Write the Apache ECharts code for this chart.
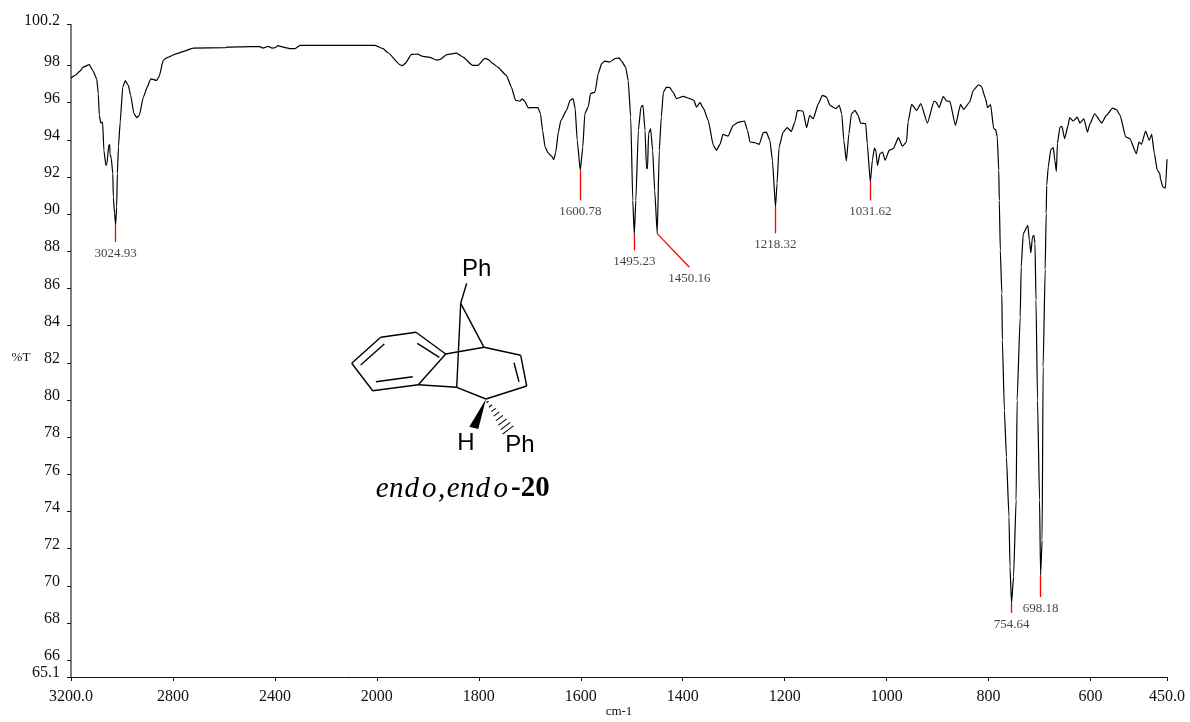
<!DOCTYPE html>
<html>
<head>
<meta charset="utf-8">
<style>html,body{margin:0;padding:0;background:#fff}#c{width:1190px;height:722px}</style>
<script src="https://cdn.jsdelivr.net/npm/echarts@6/dist/echarts.min.js"></script>
</head>
<body>
<div id="c"></div>
<script>
// [wavenumber cm-1, %T]
const chStretchRegion = [[3200,97.32],[3184,97.46],[3165,97.69],[3152,97.91],[3128,98.04],[3115,97.73],[3099,97.28],[3093,96.48],[3089,95.31],[3083,94.90],[3076,94.95],[3071,93.43],[3063,92.62],[3059,92.72],[3052,93.70],[3048,93.74],[3047,93.25],[3042,93.00],[3036,92.18],[3034,90.92],[3029,90.04],[3025,89.40],[3021,90.38],[3018,92.19],[3014,93.61],[3007,94.95],[2997,96.83],[2987,97.18],[2975,96.92],[2966,96.39],[2953,95.40],[2942,95.19],[2932,95.31],[2916,96.30],[2901,96.83],[2887,97.28],[2864,97.19],[2854,97.41],[2838,98.27],[2825,98.41],[2785,98.63],[2761,98.74],[2721,98.93]];
const plateauRegion = [[2596,98.95],[2588,98.98],[2498,99.01],[2459,99.01],[2447,98.93],[2427,99.02],[2411,98.93],[2400,98.95],[2388,99.06],[2368,98.98],[2341,98.90],[2321,98.90],[2302,99.08],[2007,99.08]];
const overtoneRegion = [[1988,98.90],[1978,98.68],[1955,98.04],[1950,97.98],[1945,98.09],[1932,98.59],[1920,98.61],[1910,98.48],[1896,98.43],[1883,98.28],[1876,98.32],[1863,98.58],[1844,98.66],[1831,98.45],[1812,98.00],[1802,98.00],[1788,98.38],[1782,98.32],[1772,98.09],[1763,97.91],[1746,97.46],[1736,96.83],[1728,96.12],[1719,96.08],[1715,96.20],[1710,96.08],[1703,95.72],[1690,95.73],[1684,95.73],[1679,95.40],[1675,94.51],[1670,93.61],[1664,93.29],[1657,93.11],[1653,92.93],[1649,93.34],[1644,94.41],[1639,95.04],[1628,95.58],[1621,96.12],[1615,96.21],[1611,95.67],[1607,93.97],[1601,92.36],[1596,93.61],[1592,95.40],[1585,95.80],[1581,96.48],[1572,96.56],[1566,97.55],[1559,98.09],[1553,98.23],[1543,98.18],[1533,98.36],[1525,98.41],[1520,98.23],[1512,97.91]];
const aromaticRegion = [[1507,97.19],[1502,95.22],[1498,90.74],[1495,88.90],[1492,90.74],[1487,94.51],[1482,95.76],[1478,95.85],[1474,94.51],[1471,92.45],[1469,92.46],[1467,94.33],[1463,94.60],[1459,93.43],[1455,91.28],[1450,88.95],[1446,93.43],[1442,95.22],[1438,96.56],[1432,96.83],[1425,96.80],[1419,96.56],[1412,96.21],[1399,96.33],[1386,96.21],[1378,96.12],[1373,95.76],[1366,96.00],[1359,95.67],[1350,95.04],[1340,93.70],[1334,93.43],[1327,93.75],[1321,94.29],[1311,94.20],[1301,94.77],[1291,94.95],[1279,95.01],[1273,94.51],[1268,93.88],[1258,93.84],[1250,93.75],[1242,94.38],[1236,94.41],[1229,93.97],[1224,92.89],[1218,90.38],[1215,91.64],[1211,93.61],[1203,94.41],[1195,94.65],[1187,94.45],[1180,94.95],[1175,95.58],[1164,95.54],[1157,94.65],[1151,95.31],[1144,95.13],[1134,95.94],[1126,96.39],[1118,96.30],[1111,95.85],[1100,95.67],[1093,95.85],[1088,95.40],[1084,93.97],[1079,92.86],[1074,94.33],[1069,95.40],[1062,95.58],[1056,95.31],[1051,94.90],[1041,94.87],[1038,93.79],[1032,91.73],[1028,92.89],[1024,93.55],[1021,93.39],[1018,92.62],[1013,93.25],[1008,93.34],[1003,92.89],[995,93.43],[987,93.52],[977,94.11],[969,93.65],[961,93.88],[958,94.95],[951,95.90],[941,95.58],[933,95.94],[920,94.90],[907,96.08],[903,96.03],[897,95.73],[889,96.33],[882,96.08],[876,96.06],[865,94.77],[855,95.90],[849,95.63],[837,96.03],[830,96.66],[820,96.96],[814,96.87],[806,96.21],[802,95.73],[796,95.89],[790,94.60],[786,94.54],[783,94.15]];
const fingerprintRegion = [[780,92.36],[779,90.74],[777,88.05],[774,85.74],[773,83.22],[769,79.45],[765,76.94],[760,73.72],[758,71.03],[755,69.08],[751,70.49],[746,74.61],[744,79.99],[738,84.47],[736,87.16],[732,88.95],[723,89.40],[720,88.59],[717,87.91],[714,88.77],[711,88.86],[709,88.43],[707,85.37],[704,79.99],[700,74.61],[698,70.58],[695,72.46],[693,81.78],[689,87.01],[687,90.04],[686,91.55],[683,92.53],[678,93.47],[673,93.58],[670,92.89],[667,92.30],[665,93.79],[660,94.68],[656,94.72],[651,94.06],[644,94.77],[641,95.19],[634,95.01],[626,95.22],[621,94.90],[613,95.13],[606,94.41],[601,94.87],[592,95.40],[578,94.90],[569,95.31],[557,95.70],[549,95.62],[542,95.31],[531,94.15],[523,94.06],[510,93.25],[505,93.88],[500,93.75],[492,94.47],[485,93.97],[480,94.29],[475,93.29],[469,92.36],[464,92.18],[463,91.91],[458,91.46],[453,91.40],[450,92.95]];

// peak: label, tip of the red leader [wn,%T], foot of the leader [wn,%T]
const peakLabels = ['3024.93','1600.78','1495.23','1450.16','1218.32','1031.62','754.64','698.18'];
const peakTips = [[3025,89.40],[1601,92.36],[1495,88.90],[1450,88.95],[1218,90.38],[1032,91.73],[755,69.08],[698,70.58]];
const peakFeet = [[3025,88.5],[1601,90.74],[1495,88.05],[1387,87.14],[1218,88.97],[1032,90.74],[755,68.54],[698,69.4]];

const xTickValues = [3200,2800,2400,2000,1800,1600,1400,1200,1000,800,600,450];
const xTickLabels = ['3200.0','2800','2400','2000','1800','1600','1400','1200','1000','800','600','450.0'];
const yTickValues = [65.1,66,68,70,72,74,76,78,80,82,84,86,88,90,92,94,96,98,100.2];

// The instrument's axis changes scale at 2000 cm-1: above it, 2 cm-1 take the room of 1.
const scaleX = wn => wn > 2000 ? 2000 + (wn - 2000) / 2 : wn;
const toPt = p => [scaleX(p[0]), p[1]];
const spectrum = [...chStretchRegion, ...plateauRegion, ...overtoneRegion, ...aromaticRegion, ...fingerprintRegion].map(toPt);
const xTicks = xTickValues.map(scaleX);

const serif = '"Liberation Serif","Times New Roman",serif';
const sans = '"Liberation Sans",Arial,sans-serif';

const seg = (x1,y1,x2,y2,w) => ({type:'line',shape:{x1,y1,x2,y2},style:{stroke:'#000',lineWidth:w||1.4},silent:true});
const bonds = [
 [460.7,303.3,466.7,283.3],[460.7,303.3,484,347.3],[460.7,303.3,456.7,387.3],
 [484,347.3,445.7,354],[484,347.3,520.7,355.3],[520.7,355.3,526.7,386],[514,362.7,519,381.7],
 [526.7,386,486,399],[486,399,456.7,387.3],[456.7,387.3,418.3,384.7],[445.7,354,418.3,384.7],
 [445.7,354,416,332.3],[416,332.3,380.7,337.3],[380.7,337.3,351.7,363.3],[351.7,363.3,372.7,390.7],
 [372.7,390.7,418.3,384.7],[417.3,343.3,439.3,357.3],[384.3,344,360.7,365],[376,381.7,412.7,376.7]
];
const hashes = [[487.5,402,1.2],[490.5,406,2],[493.5,410,2.8],[496.5,414,3.6],[499.5,418,4.4],[502.5,422,5.2],[505.5,426,6],[508,430,6.8]];
// caption is set letter by letter because the original is letter-spaced
const captionLetters = [['e',375.7],['n',389],['d',404.5],['o',422],[',',438],['e',446.7],['n',460],['d',475.5],['o',493.5]];
const graphicEls = [
 ...bonds.map(b => seg(...b)),
 {type:'polygon',shape:{points:[[486,399],[469.3,426.7],[478.3,429]]},style:{fill:'#000'},silent:true},
 ...hashes.map(h => seg(h[0]-h[2]*0.8,h[1]+h[2]*0.6,h[0]+h[2]*0.8,h[1]-h[2]*0.6,1.1)),
 {type:'text',x:476.7,y:269,style:{text:'Ph',font:'24px '+sans,fill:'#000',align:'center',verticalAlign:'middle'}},
 {type:'text',x:466,y:443,style:{text:'H',font:'24px '+sans,fill:'#000',align:'center',verticalAlign:'middle'}},
 {type:'text',x:520,y:445,style:{text:'Ph',font:'24px '+sans,fill:'#000',align:'center',verticalAlign:'middle'}},
 ...captionLetters.map(l => ({type:'text',x:l[1],y:489,style:{text:l[0],font:'italic 29px '+serif,fill:'#000',align:'left',verticalAlign:'middle'}})),
 {type:'text',x:511,y:489,style:{text:'-20',font:'bold 29px '+serif,fill:'#000',align:'left',verticalAlign:'middle'}}
];

const chart = echarts.init(document.getElementById('c'), null, {renderer:'canvas'});
chart.setOption({
  animation:false,
  backgroundColor:'#fff',
  grid:{left:71,right:23,top:24.5,bottom:45,containLabel:false,outerBoundsMode:'none'},
  xAxis:{
    type:'value',inverse:true,min:450,max:2600,
    name:'cm-1',nameLocation:'middle',nameGap:28,nameMoveOverlap:false,
    nameTextStyle:{fontFamily:serif,fontSize:13,color:'#111'},
    splitLine:{show:false},
    axisLine:{show:true,lineStyle:{color:'#111',width:1}},
    axisTick:{show:true,length:4,customValues:xTicks,lineStyle:{color:'#111'}},
    axisLabel:{customValues:xTicks,margin:12,fontFamily:serif,fontSize:16,color:'#111',
      formatter:v=>xTickLabels[xTicks.indexOf(v)]}
  },
  yAxis:{
    type:'value',min:65.1,max:100.2,
    name:'%T',nameLocation:'middle',nameRotate:0,nameGap:50,nameMoveOverlap:false,
    nameTextStyle:{fontFamily:serif,fontSize:13,color:'#111',align:'center',verticalAlign:'top',lineHeight:14},
    splitLine:{show:false},
    axisLine:{show:true,onZero:false,lineStyle:{color:'#555',width:1.5}},
    axisTick:{show:true,length:4,customValues:yTickValues,lineStyle:{color:'#111'}},
    axisLabel:{customValues:yTickValues,margin:11,fontFamily:serif,fontSize:16,color:'#111',verticalAlign:'bottom',lineHeight:8,
      formatter:v=>String(v)}
  },
  series:[
    {type:'line',data:spectrum,showSymbol:false,symbol:'none',smooth:0.15,smoothMonotone:'x',lineStyle:{color:'#000',width:1.2},z:3,silent:true},
    {type:'line',data:[],symbol:'none',silent:true,z:2,
      markLine:{silent:true,symbol:'none',animation:false,label:{show:false},
        lineStyle:{color:'#f00',width:1.3,type:'solid'},
        data:peakTips.map((p,i)=>[{coord:toPt(p)},{coord:toPt(peakFeet[i])}])}},
    {type:'scatter',symbolSize:0,silent:true,z:4,
      data:peakFeet.map((p,i)=>({value:toPt(p),name:peakLabels[i]})),
      label:{show:true,position:'bottom',distance:5,formatter:'{b}',fontFamily:serif,fontSize:13,color:'#111'}}
  ],
  graphic:{elements:graphicEls}
});
</script>
</body>
</html>
